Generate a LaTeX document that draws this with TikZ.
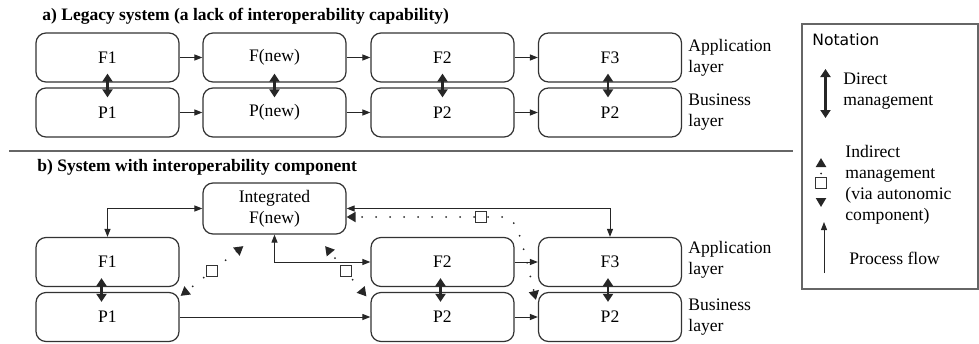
\documentclass[tikz,border=0pt]{standalone}
\usepackage{fontspec}
\setmainfont{Liberation Serif}
\newfontfamily\notafont{DejaVu Sans}
\usetikzlibrary{arrows.meta}

\begin{document}
\begin{tikzpicture}[x=0.5pt,y=-0.5pt,
		font=\fontsize{8.8}{10.5}\selectfont,
		box/.style={draw=black!80,line width=0.6pt,rounded corners=5pt,minimum width=71.5pt,minimum height=24.5pt,inner sep=0pt,align=center},
		flow/.style={-{Triangle[length=4pt,width=3pt]},line width=0.5pt,black!85},
		both/.style={{Triangle[length=4pt,width=3pt]}-{Triangle[length=4pt,width=3pt]},line width=0.5pt,black!85},
		direct/.style={{Triangle[length=4pt,width=5pt]}-{Triangle[length=4pt,width=5pt]},line width=1.1pt,black!85},
		indirect/.style={{Triangle[length=4.5pt,width=5pt]}-{Triangle[length=4.5pt,width=5pt]},line width=1pt,line cap=round,dash pattern=on 0pt off 7pt,dash phase=3.5pt,black!85},
		sq/.style={draw=black!80,fill=white,line width=0.5pt,line cap=butt,solid,minimum size=5.5pt,inner sep=0pt},
		title/.style={anchor=west,inner sep=0pt,font=\fontsize{8.75}{10}\selectfont\bfseries},
		layer/.style={anchor=west,inner sep=0pt,align=left}]
	\useasboundingbox (0,0) rectangle (979,343);

	% a) legacy system
	\node[title] (ta) at (42,16) {a) Legacy system (a lack of interoperability capability)};
	\node[box] (F1a) at (107.5,57.5) {F1};
	\node[box] (Fna) at (274.5,57.5) {F(new)};
	\node[box] (F2a) at (442.5,57.5) {F2};
	\node[box] (F3a) at (610,57.5) {F3};
	\node[box] (P1a) at (107.5,112.5) {P1};
	\node[box] (Pna) at (274.5,112.5) {P(new)};
	\node[box] (P2a) at (442.5,112.5) {P2};
	\node[box] (P3a) at (610,112.5) {P2};
	\node[layer] (appa) at (688,57.5) {Application\\layer};
	\node[layer] (busa) at (688,112.5) {Business\\layer};
	\draw[flow] (F1a) -- (Fna);
	\draw[flow] (Fna) -- (F2a);
	\draw[flow] (F2a) -- (F3a);
	\draw[flow] (P1a) -- (Pna);
	\draw[flow] (Pna) -- (P2a);
	\draw[flow] (P2a) -- (P3a);
	\draw[direct] ([yshift=4.5pt]F1a.south) -- ([yshift=-5pt]P1a.north);
	\draw[direct] ([yshift=4.5pt]Fna.south) -- ([yshift=-5pt]Pna.north);
	\draw[direct] ([yshift=4.5pt]F2a.south) -- ([yshift=-5pt]P2a.north);
	\draw[direct] ([xshift=-1pt,yshift=4.5pt]F3a.south) -- ([xshift=-1pt,yshift=-5pt]P3a.north);

	\draw[black!60,line width=0.6pt] (9,151) -- (793,151);

	% b) with interoperability component
	\node[title] (tb) at (37,167) {b) System with interoperability component};
	\node[box,minimum height=25.5pt] (IFb) at (274.5,208.5) {Integrated\\F(new)};
	\node[box] (F1b) at (107.5,262) {F1};
	\node[box] (F2b) at (442.5,262) {F2};
	\node[box] (F3b) at (610,262) {F3};
	\node[box] (P1b) at (107.5,317) {P1};
	\node[box] (P2b) at (442.5,317) {P2};
	\node[box] (P3b) at (610,317) {P2};
	\node[layer] (appb) at (688,260) {Application\\layer};
	\node[layer] (busb) at (688,317) {Business\\layer};
	\draw[both] (IFb.west) -| (F1b.north);
	\draw[both] (IFb.south) |- (F2b.west);
	\draw[both] (IFb.east) -| (F3b.north);
	\draw[flow] (F2b) -- (F3b);
	\draw[flow] (P1b) -- (P2b);
	\draw[flow] (P2b) -- (P3b);
	\draw[direct] ([xshift=-3pt,yshift=4.5pt]F1b.south) -- ([xshift=-3pt,yshift=-5pt]P1b.north);
	\draw[direct] ([xshift=-1pt,yshift=4.5pt]F2b.south) -- ([xshift=-1pt,yshift=-5pt]P2b.north);
	\draw[direct] ([xshift=-1pt,yshift=4.5pt]F3b.south) -- ([xshift=-1pt,yshift=-5pt]P3b.north);
	\draw[indirect] ([xshift=0.5pt,yshift=-2pt]P1b.north east) -- node[sq]{} ([xshift=20.5pt,yshift=-5.75pt]IFb.south west);
	\draw[indirect] ([xshift=-10.75pt,yshift=-5.75pt]IFb.south east) -- node[sq]{} ([xshift=-2pt,yshift=-2.25pt]P2b.north west);
	\draw[indirect] ([yshift=-4.25pt]IFb.east) -- node[sq,pos=0.85]{} (505,217) .. controls (518,217) and (524,250) .. ([xshift=-1pt,yshift=-4pt]P3b.north west);

	% notation
	\draw[black!60,line width=0.6pt] (802,24) rectangle (978,289);
	\node[anchor=west,inner sep=0pt,font=\notafont\fontsize{7.8}{9}\selectfont] (nota) at (812,40) {Notation};
	\coordinate (dmT) at (825.5,69);
	\coordinate (dmB) at (825.5,118);
	\draw[direct] (dmT) -- (dmB);
	\node[layer] (dmtxt) at (843,91.5) {Direct\\management};
	\coordinate (imT) at (821,158);
	\coordinate (imB) at (821,207);
	\draw[indirect] (imT) -- node[sq]{} (imB);
	\node[layer] (imtxt) at (845,185) {Indirect\\management\\(via autonomic\\component)};
	\coordinate (pfB) at (824,273);
	\coordinate (pfT) at (824,222);
	\draw[flow] (pfB) -- (pfT);
	\node[layer] (pftxt) at (849,258) {Process flow};
\end{tikzpicture}
\end{document}
